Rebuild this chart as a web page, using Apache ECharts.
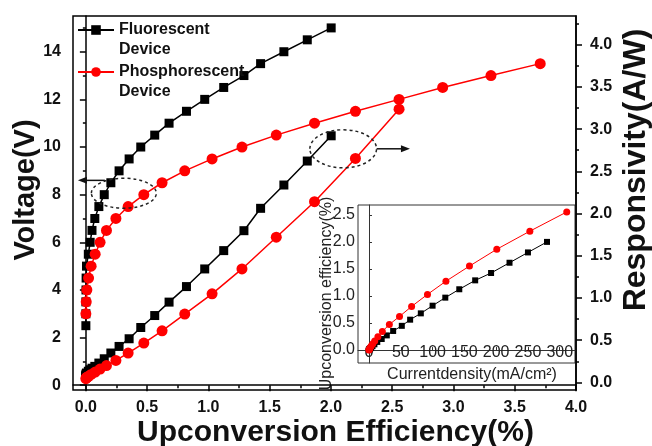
<!DOCTYPE html>
<html>
<head>
<meta charset="utf-8">
<script src="https://cdn.jsdelivr.net/npm/echarts@6/dist/echarts.min.js"></script>
<style>
  html, body { margin: 0; padding: 0; background: #fff; }
  #chart { width: 652px; height: 446px; }
</style>
</head>
<body>
<div id="chart"></div>
<script>
// Fluorescent device: upconversion efficiency (%), driving voltage (V),
// responsivity (A/W) and current density (mA/cm2) per measurement
const fluoEff = [0.000, 0.000, 0.000, 0.001, 0.002, 0.005, 0.020, 0.035, 0.050, 0.073, 0.106, 0.150, 0.204,
  0.271, 0.353, 0.448, 0.562, 0.679, 0.821, 0.970, 1.125, 1.290, 1.426, 1.616, 1.807, 2.002];
const fluoVoltage = [2.5, 3.0, 3.5, 4.0, 4.5, 5.0, 5.5, 6.0, 6.5, 7.0, 7.5, 8.0, 8.5,
  9.0, 9.5, 10.0, 10.5, 11.0, 11.5, 12.0, 12.5, 13.0, 13.5, 14.0, 14.5, 15.0];
const fluoResp = [0.070, 0.075, 0.080, 0.090, 0.100, 0.111, 0.132, 0.150, 0.168, 0.190, 0.229, 0.280, 0.348,
  0.426, 0.517, 0.650, 0.792, 0.951, 1.135, 1.344, 1.561, 1.797, 2.062, 2.338, 2.622, 2.921];
const fluoCurrent = [0, 0, 0, 0.1, 0.2, 0.5, 1.5, 2.5, 3.5, 5.5, 8.5, 13, 20,
  28, 38, 51.6, 64.7, 81.5, 100, 120, 142, 167, 192, 221, 250, 280];

// Phosphorescent device
const phosEff = [0.000, 0.003, 0.008, 0.022, 0.043, 0.076, 0.116, 0.168, 0.245, 0.345, 0.473,
  0.622, 0.807, 1.030, 1.274, 1.554, 1.866, 2.200, 2.556, 2.912, 3.306, 3.708];
const phosVoltage = [3.0, 3.5, 4.0, 4.5, 5.0, 5.5, 6.0, 6.5, 7.0, 7.5, 8.0,
  8.5, 9.0, 9.5, 10.0, 10.5, 11.0, 11.5, 12.0, 12.5, 13.0, 13.5];
const phosResp = [0.044, 0.052, 0.061, 0.073, 0.095, 0.123, 0.158, 0.200, 0.260, 0.348, 0.466,
  0.611, 0.809, 1.049, 1.344, 1.720, 2.140, 2.653, 3.236, null, null, null];
const phosCurrent = [0, 0.1, 0.3, 0.8, 1.8, 3.5, 6, 9, 14, 21, 32,
  48, 67, 92, 121, 158, 201, 253, 311, null, null, null];

// Tick values
const effTicks = [0, 0.5, 1.0, 1.5, 2.0, 2.5, 3.0, 3.5, 4.0];
const effMinorTicks = [0.25, 0.75, 1.25, 1.75, 2.25, 2.75, 3.25, 3.75];
const voltTicks = [0, 2, 4, 6, 8, 10, 12, 14];
const voltMinorTicks = [1, 3, 5, 7, 9, 11, 13, 15];
const respTicks = [0, 0.5, 1.0, 1.5, 2.0, 2.5, 3.0, 3.5, 4.0];
const respMinorTicks = [0.25, 0.75, 1.25, 1.75, 2.25, 2.75, 3.25, 3.75, 4.25];
const insetXTicks = [0, 50, 100, 150, 200, 250, 300];
const insetYTicks = [0, 0.5, 1.0, 1.5, 2.0, 2.5];

const FONT = '"Liberation Sans", Arial, sans-serif';
const BLACK = '#000000';
const RED = '#ff0000';
const NAMES = ['Fluorescent Device', 'Phosphorescent Device'];

function pairs(xs, ys) {
  const out = [];
  xs.forEach((x, i) => { if (ys[i] != null) out.push([x, ys[i]]); });
  return out;
}

const chart = echarts.init(document.getElementById('chart'), null, { renderer: 'canvas' });

const mainLabel = { fontFamily: FONT, fontWeight: 'bold', fontSize: 16, color: '#111' };
const insetLabel = { fontFamily: FONT, fontSize: 16, color: '#222' };
const lineAxis = { lineStyle: { color: BLACK, width: 1.5 } };

function minorAxis(base, ticks) {
  return Object.assign({}, base, {
    axisLine: { show: false },
    axisLabel: { show: false },
    axisTick: { show: true, length: 3, inside: false, customValues: ticks, lineStyle: { color: BLACK, width: 1.5 } },
    splitLine: { show: false },
    name: ''
  });
}

const xMainBase = { type: 'value', gridIndex: 0, min: -0.105, max: 4.0, position: 'bottom' };
const yLeftBase = { type: 'value', gridIndex: 0, min: -0.2, max: 15.5, position: 'left' };
const yRightBase = { type: 'value', gridIndex: 0, min: -0.09, max: 4.34, position: 'right' };

function mainSeries(name, xs, ys, xi, yi, symbol, color, size, width) {
  return {
    name, type: 'line', xAxisIndex: xi, yAxisIndex: yi,
    data: pairs(xs, ys), symbol, symbolSize: size,
    lineStyle: { color, width }, itemStyle: { color },
    animation: false, z: 3
  };
}

chart.setOption({
  animation: false,
  backgroundColor: '#fff',
  grid: [
    { left: 73, right: 76, top: 16, bottom: 56, outerBoundsMode: 'none', containLabel: false,
      show: true, borderColor: BLACK, borderWidth: 1.5, backgroundColor: 'transparent' },
    { left: 358, right: 77, top: 205, bottom: 83, outerBoundsMode: 'none', containLabel: false,
      show: true, borderColor: '#333', borderWidth: 1, backgroundColor: '#fff' }
  ],
  legend: {
    data: NAMES,
    orient: 'vertical',
    left: 77, top: 0, padding: 0,
    itemWidth: 36, itemHeight: 12, itemGap: -18,
    // a blank first line keeps the symbol level with the first text line
    formatter: (n) => '\u00a0\n' + n.replace(' ', '\n'),
    textStyle: { fontFamily: FONT, fontWeight: 'bold', fontSize: 16, lineHeight: 20, color: '#111' },
    selectedMode: false
  },
  xAxis: [
    Object.assign({}, xMainBase, {
      axisLine: lineAxis,
      axisTick: { length: 6, customValues: effTicks, lineStyle: { color: BLACK, width: 1.5 } },
      axisLabel: Object.assign({ customValues: effTicks, margin: 10, formatter: (v) => v.toFixed(1) }, mainLabel),
      splitLine: { show: false },
      name: 'Upconversion Efficiency(%)', nameLocation: 'middle', nameGap: 28, nameMoveOverlap: false,
      nameTextStyle: { fontFamily: FONT, fontWeight: 'bold', fontSize: 30, color: '#111', padding: [0, 0, 0, 22] }
    }),
    minorAxis(xMainBase, effMinorTicks),
    {
      type: 'value', gridIndex: 1, min: -17.3, max: 324, position: 'bottom',
      axisLine: { lineStyle: { color: '#333', width: 1 } },
      axisTick: { inside: true, length: 3, customValues: insetXTicks, lineStyle: { color: '#333' } },
      axisLabel: Object.assign({ inside: true, margin: 2, customValues: insetXTicks }, insetLabel),
      splitLine: { show: false },
      name: 'Currentdensity(mA/cm²)', nameLocation: 'middle', nameGap: 4, nameMoveOverlap: false,
      nameTextStyle: Object.assign({ padding: [0, 0, 0, 11] }, insetLabel)
    }
  ],
  yAxis: [
    Object.assign({}, yLeftBase, {
      axisLine: lineAxis,
      axisTick: { length: 6, customValues: voltTicks, lineStyle: { color: BLACK, width: 1.5 } },
      axisLabel: Object.assign({ customValues: voltTicks, margin: 12 }, mainLabel),
      splitLine: { show: false },
      name: 'Voltage(V)', nameLocation: 'middle', nameGap: 33, nameRotate: 90, nameMoveOverlap: false,
      nameTextStyle: { fontFamily: FONT, fontWeight: 'bold', fontSize: 29, color: '#111', padding: [0, 0, 0, 26] }
    }),
    minorAxis(yLeftBase, voltMinorTicks),
    Object.assign({}, yRightBase, {
      axisLine: lineAxis,
      axisTick: { length: 6, customValues: respTicks, lineStyle: { color: BLACK, width: 1.5 } },
      axisLabel: Object.assign({ customValues: respTicks, margin: 14, formatter: (v) => v.toFixed(1) }, mainLabel),
      splitLine: { show: false },
      name: 'Responsivity(A/W)', nameLocation: 'middle', nameGap: 44, nameRotate: 90, nameMoveOverlap: false,
      nameTextStyle: { fontFamily: FONT, fontWeight: 'bold', fontSize: 32, color: '#111', padding: [0, 0, 0, 66] }
    }),
    minorAxis(yRightBase, respMinorTicks),
    {
      type: 'value', gridIndex: 1, min: -0.24, max: 2.685, position: 'left',
      axisLine: { lineStyle: { color: '#333', width: 1 } },
      axisTick: { inside: true, length: 3, customValues: insetYTicks, lineStyle: { color: '#333' } },
      axisLabel: Object.assign({ margin: 3, customValues: insetYTicks, formatter: (v) => v.toFixed(1) }, insetLabel),
      splitLine: { show: false },
      name: 'Upconversion efficiency(%)', nameLocation: 'middle', nameGap: 23, nameRotate: 90, nameMoveOverlap: false,
      nameTextStyle: Object.assign({ padding: [0, 19, 0, 0] }, insetLabel)
    }
  ],
  series: [
    mainSeries(NAMES[0], fluoEff, fluoVoltage, 0, 0, 'rect', BLACK, 9, 1.5),
    mainSeries(NAMES[1], phosEff, phosVoltage, 0, 0, 'circle', RED, 11, 1.5),
    mainSeries(NAMES[0], fluoEff, fluoResp, 0, 2, 'rect', BLACK, 9, 1.5),
    mainSeries(NAMES[1], phosEff, phosResp, 0, 2, 'circle', RED, 11, 1.5),
    mainSeries(NAMES[0], fluoCurrent, fluoEff, 2, 4, 'rect', BLACK, 6, 1),
    mainSeries(NAMES[1], phosCurrent, phosEff, 2, 4, 'circle', RED, 7, 1)
  ]
});

// Dashed ellipses with arrows pointing each group of curves to its axis
const callouts = [
  { cx: 0.31, cy: 8.06, rx: 0.265, ry: 0.63, yAxis: 0, arrowY: 8.6, from: 0.155, to: -0.065 },
  { cx: 2.10, cy: 2.767, rx: 0.272, ry: 0.225, yAxis: 2, arrowY: 2.767, from: 2.373, to: 2.645 }
];

function px(x, y, yi) {
  return chart.convertToPixel({ xAxisIndex: 0, yAxisIndex: yi }, [x, y]);
}

const graphics = [];
callouts.forEach((c) => {
  const ctr = px(c.cx, c.cy, c.yAxis);
  const edge = px(c.cx + c.rx, c.cy + c.ry, c.yAxis);
  graphics.push({
    type: 'ellipse', z: 10,
    shape: { cx: ctr[0], cy: ctr[1], rx: Math.abs(edge[0] - ctr[0]), ry: Math.abs(edge[1] - ctr[1]) },
    style: { fill: 'none', stroke: '#222', lineWidth: 1.5, lineDash: [3, 3] }
  });
  const a = px(c.from, c.arrowY, c.yAxis);
  const b = px(c.to, c.arrowY, c.yAxis);
  const dir = Math.sign(b[0] - a[0]);
  graphics.push({
    type: 'line', z: 10,
    shape: { x1: a[0], y1: a[1], x2: b[0] - dir * 6, y2: b[1] },
    style: { stroke: '#111', lineWidth: 1.5 }
  });
  graphics.push({
    type: 'polygon', z: 10,
    shape: { points: [[b[0], b[1]], [b[0] - dir * 9, b[1] - 3.5], [b[0] - dir * 9, b[1] + 3.5]] },
    style: { fill: '#111' }
  });
});
chart.setOption({ graphic: graphics });
</script>
</body>
</html>
